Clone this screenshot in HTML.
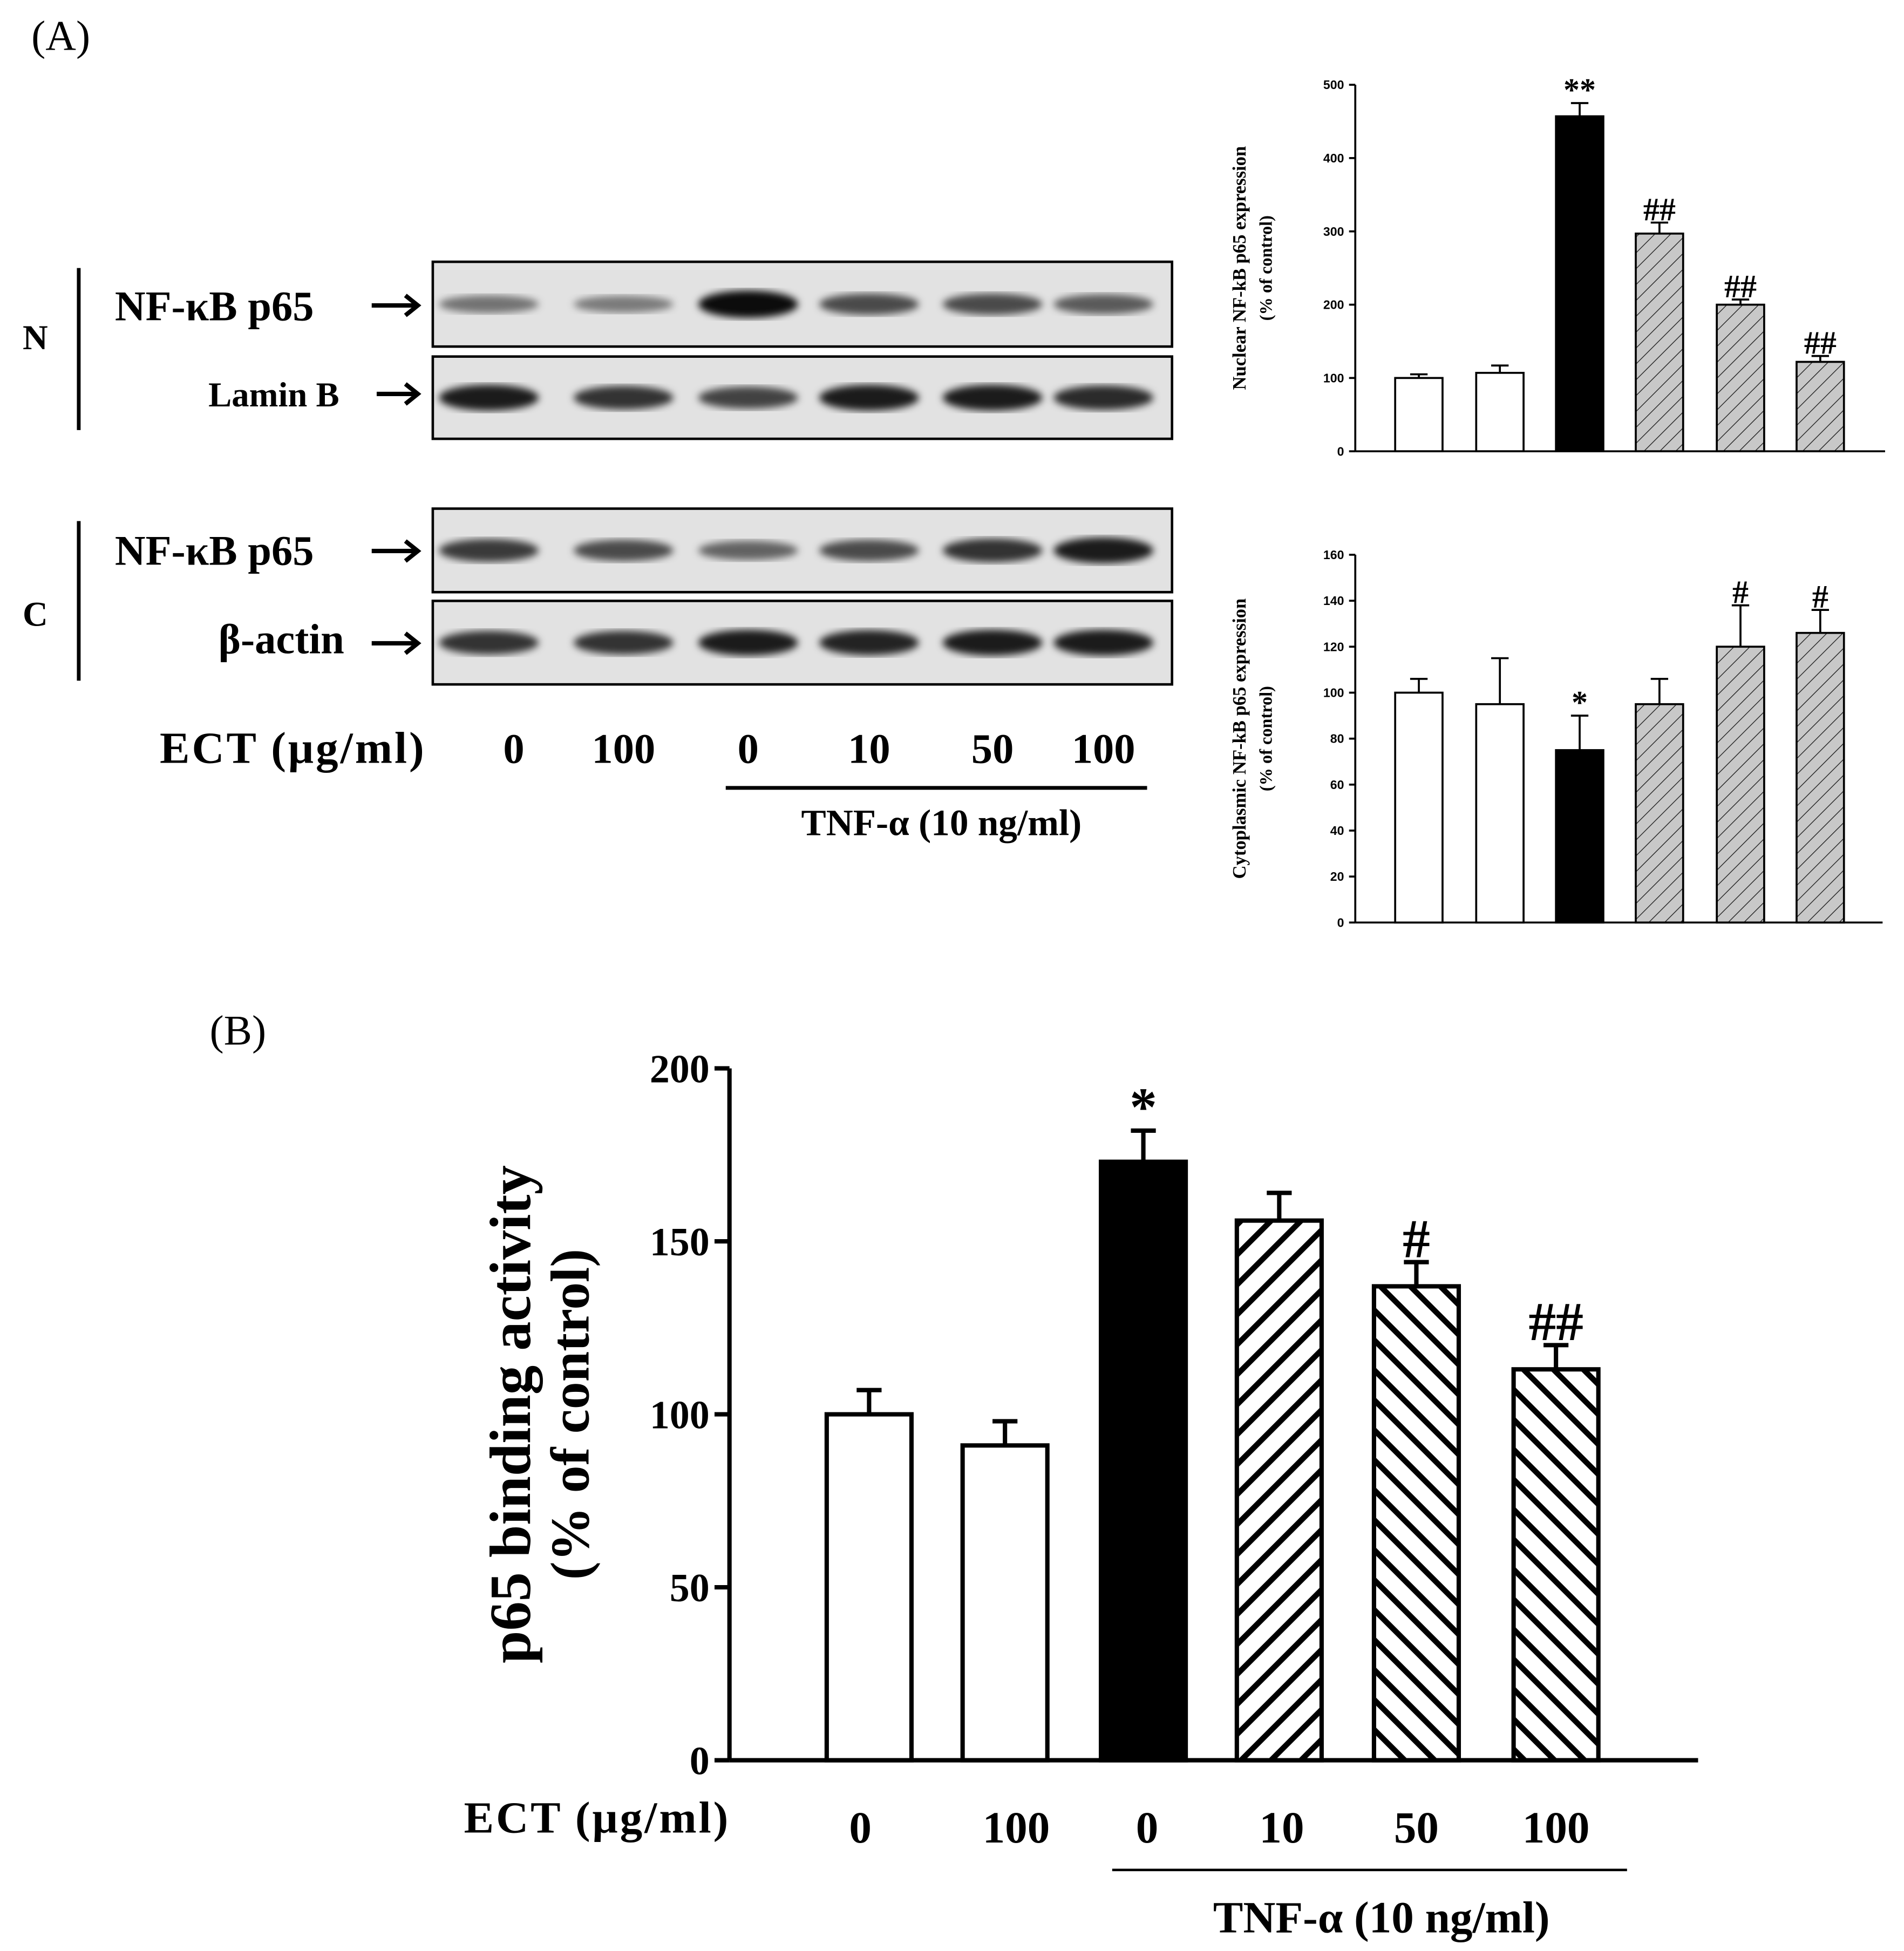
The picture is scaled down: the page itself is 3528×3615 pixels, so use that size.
<!DOCTYPE html>
<html><head><meta charset="utf-8"><style>
html,body{margin:0;padding:0;background:#fff;}
svg{display:block;font-family:"Liberation Serif",serif;}
</style></head><body>
<svg id="fig" width="3528" height="3615" viewBox="0 0 1527 1565" xmlns="http://www.w3.org/2000/svg">
<defs>
<pattern id="hatchSmall" patternUnits="userSpaceOnUse" width="9" height="9" patternTransform="rotate(45)">
<rect width="9" height="9" fill="#c8c8c8"/><line x1="0" y1="0" x2="0" y2="9" stroke="#222" stroke-width="1.2"/></pattern>
<pattern id="hatchF" patternUnits="userSpaceOnUse" width="17" height="17" patternTransform="rotate(45)">
<rect width="17" height="17" fill="#fff"/><line x1="0" y1="0" x2="0" y2="17" stroke="#000" stroke-width="9"/></pattern>
<pattern id="hatchB" patternUnits="userSpaceOnUse" width="17" height="17" patternTransform="rotate(-45)">
<rect width="17" height="17" fill="#fff"/><line x1="0" y1="0" x2="0" y2="17" stroke="#000" stroke-width="9"/></pattern>
<filter id="blur"><feGaussianBlur stdDeviation="3"/></filter>
</defs>
<text x="25" y="40" font-size="34">(A)</text>
<text x="168" y="838" font-size="34">(B)</text>
<g id="blots" font-weight="bold"></g>
<g id="nuc"></g>
<g id="cyt"></g>
<g id="bmain"></g>
</svg>
<script>
// Western blot band intensities (relative darkness)
const lanes = ["0","100","0","10","50","100"];
const nucP65Bands = [0.35,0.3,1.0,0.6,0.6,0.5];
const laminBands = [0.9,0.75,0.65,0.9,0.9,0.8];
const cytP65Bands = [0.7,0.6,0.45,0.6,0.75,0.9];
const actinBands = [0.75,0.75,0.9,0.85,0.9,0.9];
// Nuclear chart
const nucValues = [100,107,457,297,200,122];
const nucErrors = [5,10,18,15,7,8];
const nucMarks = ["","","**","##","##","##"];
const nucTicks = [0,100,200,300,400,500];
// Cytoplasmic chart
const cytValues = [100,95,75,95,120,126];
const cytErrors = [6,20,15,11,18,10];
const cytMarks = ["","","*","","#","#"];
const cytTicks = [0,20,40,60,80,100,120,140,160];
// Panel B chart
const bValues = [100,91,173,156,137,113];
const bErrors = [7,7,9,8,7,7];
const bMarks = ["","","*","","#","##"];
const bTicks = [0,50,100,150,200];
const bLabels = ["0","100","0","10","50","100"];

const NS="http://www.w3.org/2000/svg";
function mk(parent,tag,attrs,text){const e=document.createElementNS(NS,tag);for(const k in attrs)e.setAttribute(k,attrs[k]);if(text!==undefined)e.textContent=text;parent.appendChild(e);return e;}

// ----- blots -----
const bl=document.getElementById('blots');
const laneX=[412,500,600,697,796,885];
function blot(y,h,bands,name){
  const g=mk(bl,'g',{});
  
  
  mk(g,'rect',{x:347,y:y,width:593,height:h,fill:'#e2e2e2',stroke:'#000','stroke-width':2});
  bands.forEach((v,i)=>{
    const b=mk(g,'ellipse',{cx:laneX[i]+ (i===0?-20:0),cy:y+h/2,rx:40,ry:5+v*6,fill:'#000','fill-opacity':0.25+0.7*v,filter:'url(#blur)'});
    
    
  });
}
blot(210,68,nucP65Bands,'blot-nuclear-p65');
blot(286,66,laminBands,'blot-lamin-b');
blot(408,67,cytP65Bands,'blot-cyto-p65');
blot(482,67,actinBands,'blot-beta-actin');
function t(p,x,y,s,txt,name,anchor,extra){const e=mk(p,'text',Object.assign({x:x,y:y,'font-size':s,'text-anchor':anchor||'start'},extra||{}),txt);return e;}
mk(bl,'line',{x1:63,y1:215,x2:63,y2:345,stroke:'#000','stroke-width':3});
mk(bl,'line',{x1:63,y1:418,x2:63,y2:546,stroke:'#000','stroke-width':3});
t(bl,18,280,28,'N','label-n');
t(bl,18,502,28,'C','label-c');
t(bl,92,257,34,'NF-κB p65','label-nf-kb-nuclear');
t(bl,167,326,28,'Lamin B','label-lamin-b');
t(bl,92,453,34,'NF-κB p65','label-nf-kb-cyto');
t(bl,175,524,34,'β-actin','label-beta-actin');
function arrow(x1,x2,y){mk(bl,'path',{d:`M${x1} ${y} H${x2} M${x2-10} ${y-8} L${x2} ${y} L${x2-10} ${y+8}`,stroke:'#000','stroke-width':3.5,fill:'none'});}
arrow(298,335,245);arrow(302,335,316);arrow(298,335,442);arrow(298,335,516);
t(bl,128,612,36,'ECT (μg/ml)','label-ect-a','start',{textLength:212});
lanes.forEach((l,i)=>t(bl,[412,500,600,697,796,885][i],612,34,l,'lane-label-'+i,'middle'));
mk(bl,'line',{x1:582,y1:632,x2:920,y2:632,stroke:'#000','stroke-width':3});
t(bl,755,670,30,'TNF-α (10 ng/ml)','label-tnf-a','middle');

// ----- generic chart -----
function chart(id,opt){
  const g=document.getElementById(id);
  const y=v=>opt.y0-(v-opt.min)/(opt.max-opt.min)*(opt.y0-opt.y1);
  opt.values.forEach((v,i)=>{
    const cx=opt.cx[i];
    const e=opt.errors[i];
    const eb=mk(g,'path',{d:`M${cx} ${y(v)} V${y(v+e)} M${cx-opt.cap} ${y(v+e)} H${cx+opt.cap}`,stroke:'#000','stroke-width':opt.sw,fill:'none'});
    
    
    const r=mk(g,'rect',{x:cx-opt.w/2,y:y(v),width:opt.w,height:opt.y0-y(v),fill:opt.fills[i],stroke:'#000','stroke-width':opt.sw});
    
    
    if(opt.marks[i]){
      const m=mk(g,'text',{x:cx,y:y(v+e)-opt.markGap,'font-size':opt.markSize,'font-weight':'bold','text-anchor':'middle'},opt.marks[i]);
      
      
    }
  });
  mk(g,'line',{x1:opt.ax,y1:opt.y1,x2:opt.ax,y2:opt.y0,stroke:'#000','stroke-width':opt.asw});
  mk(g,'line',{x1:opt.ax,y1:opt.y0,x2:opt.xEnd,y2:opt.y0,stroke:'#000','stroke-width':opt.asw});
  opt.ticks.forEach(tv=>{
    mk(g,'line',{x1:opt.ax-opt.tl,y1:y(tv),x2:opt.ax,y2:y(tv),stroke:'#000','stroke-width':opt.asw});
    const tx=mk(g,'text',{x:opt.ax-opt.tl-4,y:y(tv)+opt.ts*0.35,'font-size':opt.ts,'font-weight':'bold','text-anchor':'end','font-family':opt.tf||'Liberation Serif, serif'},tv);
    
    
  });
  opt.ylab.forEach((l,i)=>{
    const tx=mk(g,'text',{x:0,y:0,'font-size':opt.ls[i],'font-weight':'bold','text-anchor':'middle',transform:`translate(${opt.lx[i]},${(opt.y0+opt.y1)/2}) rotate(-90)`},l);
    
    
  });
  return y;
}
const cxs=[1138,1203,1267,1331,1396,1460];
const smallFills=['#fff','#fff','#000','url(#hatchSmall)','url(#hatchSmall)','url(#hatchSmall)'];
chart('nuc',{values:nucValues,errors:nucErrors,marks:nucMarks,ticks:nucTicks,min:0,max:500,y0:362,y1:68,ax:1087,xEnd:1512,cx:cxs,w:38,cap:7,sw:1.6,asw:1.6,tl:5,ts:10,tf:'Liberation Sans, sans-serif',markSize:26,markGap:2,fills:smallFills,ylab:['Nuclear NF-kB p65 expression','(% of control)'],lx:[999,1020],ls:[15,14]});
chart('cyt',{values:cytValues,errors:cytErrors,marks:cytMarks,ticks:cytTicks,min:0,max:160,y0:740,y1:445,ax:1087,xEnd:1510,cx:cxs,w:38,cap:7,sw:1.6,asw:1.6,tl:5,ts:10,tf:'Liberation Sans, sans-serif',markSize:26,markGap:2,fills:smallFills,ylab:['Cytoplasmic NF-kB p65 expression','(% of control)'],lx:[999,1020],ls:[15,14]});
chart('bmain',{values:bValues,errors:bErrors,marks:bMarks,ticks:bTicks,min:0,max:200,y0:1412,y1:857,ax:585,xEnd:1362,cx:[697,806,917,1026,1136,1248],w:68,cap:10,sw:3.5,asw:3.5,tl:12,ts:32,markSize:44,markGap:4,fills:['#fff','#fff','#000','url(#hatchF)','url(#hatchB)','url(#hatchB)'],ylab:['p65 binding activity','(% of control)'],lx:[425,472],ls:[47,44]});
const bm=document.getElementById('bmain');
t(bm,372,1470,36,'ECT (μg/ml)','label-ect-b','start',{'font-weight':'bold',textLength:212});
bLabels.forEach((l,i)=>t(bm,[690,815,920,1028,1136,1248][i],1478,36,l,'x-tick-label-'+i,'middle',{'font-weight':'bold'}));
mk(bm,'line',{x1:892,y1:1500,x2:1305,y2:1500,stroke:'#000','stroke-width':2});
t(bm,1108,1550,36,'TNF-α (10 ng/ml)','label-tnf-a-b','middle',{'font-weight':'bold'});
</script>
</body></html>
